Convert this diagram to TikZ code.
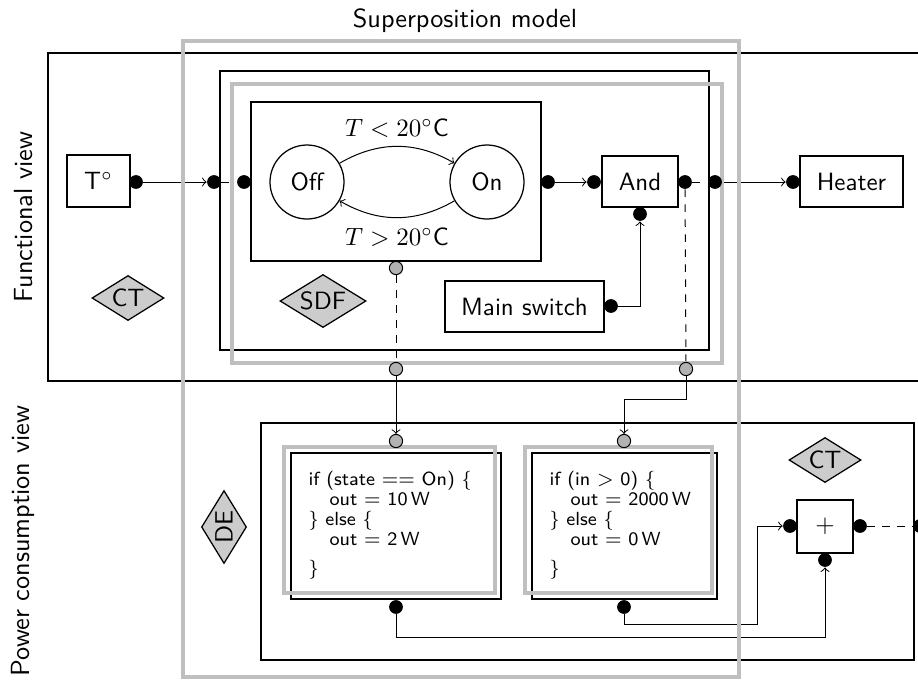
\documentclass[tikz,border=0pt]{standalone}
\usetikzlibrary{shapes.geometric}
\pgfdeclarelayer{fg}
\pgfsetlayers{main,fg}
\begin{document}
\begin{tikzpicture}[x=0.4pt,y=-0.4pt, font=\sffamily, line width=0.5pt,
  blk/.style={draw, inner sep=0pt},
  dotb/.style={circle, fill=black, inner sep=0pt, minimum size=5.5pt},
  dotg/.style={circle, draw=black, fill=gray!60, inner sep=0pt, minimum size=5.3pt},
  gryframe/.style={draw=gray!50, line width=1.5pt},
  diam/.style={diamond, draw, fill=gray!40, inner sep=0pt, aspect=1.6},
  fsmstate/.style={circle, draw, minimum size=29.6pt, inner sep=0pt},
  code/.style={anchor=base west, inner sep=0pt, font=\sffamily\fontsize{7.6}{8}\selectfont},
  biglabel/.style={font=\sffamily\fontsize{10.5}{12}\selectfont},
]
\useasboundingbox (0,0) rectangle (918,681);
\clip (0,0) rectangle (918,681);

% black frames
\draw (48,53) rectangle (940,381);
\draw (261,423) rectangle (914,660);
\draw (220,71) rectangle (709,350);
\draw (251,102) rectangle (541,261);
\draw (291,453) rectangle (501,599);
\draw (532,453) rectangle (717,599);

% labels
\node[biglabel, anchor=base] (title) at (465,27) {Superposition model};
\node[biglabel, rotate=90] (fv) at (24,217) {Functional view};
\node[biglabel, rotate=90] (pv) at (23,541) {Power consumption view};

% blocks
\node[blk, minimum width=25.2pt, minimum height=20.8pt] (temp) at (98.5,181) {T$^\circ$};
\node[fsmstate] (off) at (307,182) {Off};
\node[fsmstate] (on) at (487,182) {On};
\node[blk, minimum width=30.4pt, minimum height=20.4pt] (and) at (640,181.5) {And};
\node[blk, minimum width=41.2pt, minimum height=20.4pt] (heater) at (851.5,181.5) {Heater};
\node[blk, minimum width=63.6pt, minimum height=20.4pt] (ms) at (524.5,306.5) {Main switch};
\node[blk, minimum width=22.4pt, minimum height=21.2pt] (plus) at (825,526.5) {$+$};

\node (lt) at (397,128) {$T<20^\circ$C};
\node (gt) at (397,237) {$T>20^\circ$C};

\node[diam, minimum width=28.8pt, minimum height=18pt] (ct1) at (128,298) {CT};
\node[diam, minimum width=34.4pt, minimum height=21.2pt] (sdf) at (323,301) {SDF};
\node[diam, minimum width=28.8pt, minimum height=18pt] (ct2) at (825,460) {CT};
\node[diam, rotate=90, minimum width=29.2pt, minimum height=18pt] (de) at (224,527) {DE};

\node[code] (code1) at (308,485) {\begin{tabular}[t]{@{}l@{}}if (state $==$ On) \{\\ \hspace*{8.4pt}out $=$ 10\,W\\ \} else \{\\ \hspace*{8.4pt}out $=$ 2\,W\\[3.6pt] \}\end{tabular}};
\node[code] (code2) at (549,485) {\begin{tabular}[t]{@{}l@{}}if (in $>$ 0) \{\\ \hspace*{8.4pt}out $=$ 2000\,W\\ \} else \{\\ \hspace*{8.4pt}out $=$ 0\,W\\[3.6pt] \}\end{tabular}};

\begin{pgfonlayer}{fg}
% gray frames
\draw[gryframe] (183,41) rectangle (739,677);
\draw[gryframe] (232,84) rectangle (722,363);
\draw[gryframe] (284,447) rectangle (495,593);
\draw[gryframe] (525,447) rectangle (712,593);
% ports
\node[dotb] (tout) at (136,182) {};
\node[dotb] (oin) at (214,182) {};
\node[dotb] (fin) at (244,182) {};
\node[dotb] (fout) at (548,182) {};
\node[dotb] (ain) at (594,182) {};
\node[dotb] (aout) at (685,182) {};
\node[dotb] (oout) at (715,182) {};
\node[dotb] (hin) at (793,182) {};
\node[dotb] (abot) at (640,214) {};
\node[dotb] (msout) at (611,306) {};
\node[dotg] (g1) at (396,268) {};
\node[dotg] (g2) at (396,369) {};
\node[dotg] (g3) at (396,441) {};
\node[dotg] (g4) at (686,369) {};
\node[dotg] (g5) at (624,441) {};
\node[dotb] (b1) at (396,607) {};
\node[dotb] (b2) at (624,607) {};
\node[dotb] (pl) at (790,526) {};
\node[dotb] (pr) at (860,526) {};
\node[dotb] (pb) at (825,560) {};
\node[dotb] (pout) at (920,526) {};
\end{pgfonlayer}

\coordinate (stubl) at (229,182);
\coordinate (stubr) at (700,182);
\coordinate (k1) at (686,399);
\coordinate (k2) at (396,637);
\coordinate (k3) at (757,624);

% connectors
\draw[->] (tout) -- (oin);
\draw (oin) -- (stubl);
\draw[->] (off) to[bend left=30] (on);
\draw[->] (on) to[bend left=30] (off);
\draw[->] (fout) -- (ain);
\draw (aout) -- (stubr);
\draw[->] (oout) -- (hin);
\draw[->] (msout) -| (abot);
\draw[dashed] (g1) -- (g2);
\draw[->] (g2) -- (g3);
\draw[dashed] (aout) -- (g4);
\draw[->] (g4) -- (k1) -| (g5);
\draw[->] (b1) -- (k2) -| (pb);
\draw[->] (b2) |- (k3) |- (pl);
\draw[dashed] (pr) -- (pout);
\end{tikzpicture}
\end{document}
